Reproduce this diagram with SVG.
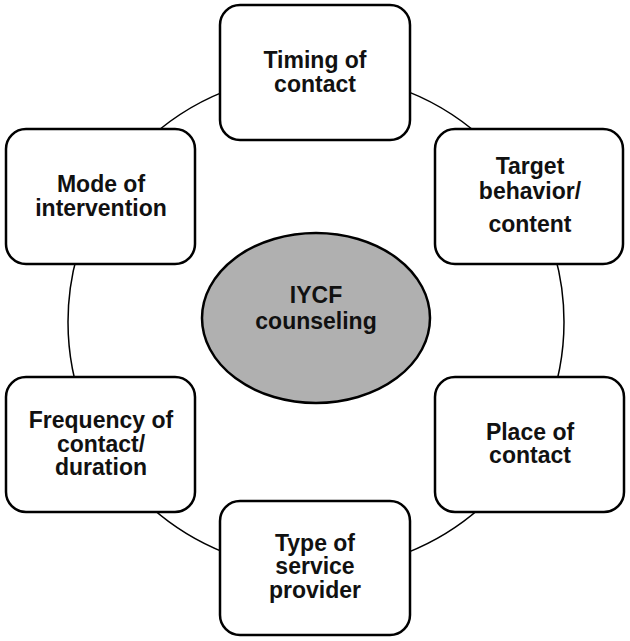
<svg xmlns="http://www.w3.org/2000/svg" width="630" height="641" viewBox="0 0 630 641">
<style>
.box{fill:#fff;stroke:#000;stroke-width:2.5}
.ring{fill:none;stroke:#000;stroke-width:1.5}
.hub{fill:#b0b0b0;stroke:#000;stroke-width:2.5}
text{font-family:"Liberation Sans",Arial,sans-serif;font-weight:bold;font-size:23px;fill:#111;text-anchor:middle}
</style>
<rect width="630" height="641" fill="#fff"/>
<g id="connectors">
<circle class="ring" cx="316" cy="322" r="248"/>
</g>
<g id="timing">
<rect class="box" x="220" y="5" width="190" height="135" rx="20"/>
<text x="315" y="68">Timing of</text>
<text x="315" y="92">contact</text>
</g>
<g id="target">
<rect class="box" x="435" y="129" width="188" height="135" rx="20"/>
<text x="530" y="174">Target</text>
<text x="530" y="199">behavior/</text>
<text x="530" y="232">content</text>
</g>
<g id="place">
<rect class="box" x="435" y="377" width="189" height="135" rx="20"/>
<text x="530" y="440">Place of</text>
<text x="530" y="463">contact</text>
</g>
<g id="type">
<rect class="box" x="220" y="501" width="190" height="134" rx="20"/>
<text x="315" y="551">Type of</text>
<text x="315" y="574">service</text>
<text x="315" y="598">provider</text>
</g>
<g id="frequency">
<rect class="box" x="6" y="377" width="189" height="135" rx="20"/>
<text x="101" y="428">Frequency of</text>
<text x="101" y="452">contact/</text>
<text x="101" y="475">duration</text>
</g>
<g id="mode">
<rect class="box" x="6" y="129" width="189" height="135" rx="20"/>
<text x="101" y="192">Mode of</text>
<text x="101" y="216">intervention</text>
</g>
<g id="iycf">
<ellipse class="hub" cx="316" cy="318" rx="114" ry="85"/>
<text x="316" y="303">IYCF</text>
<text x="316" y="329">counseling</text>
</g>
</svg>
